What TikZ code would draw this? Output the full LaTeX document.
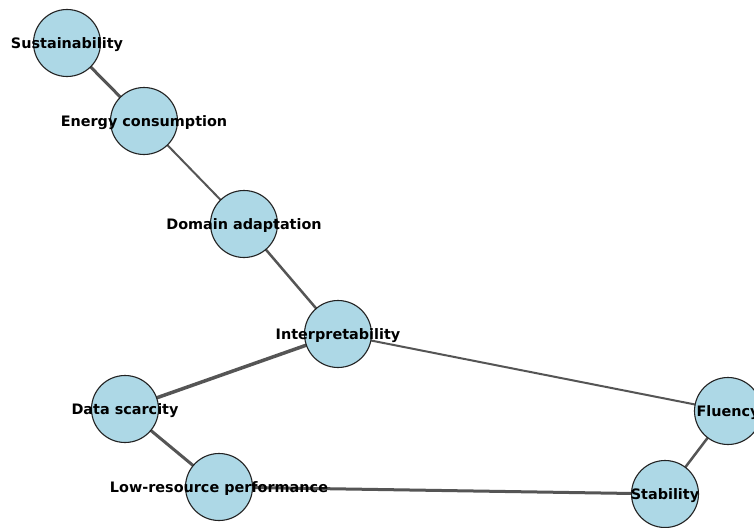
\documentclass[tikz,border=0pt]{standalone}
\usepackage{fontspec}
\setmainfont{DejaVu Sans}
\definecolor{nodefill}{HTML}{ADD8E6}
\definecolor{edgecol}{HTML}{555555}
\definecolor{rimcol}{HTML}{222222}
\pgfdeclarelayer{bg}
\pgfsetlayers{bg,main}
\begin{document}
\begin{tikzpicture}[x=1pt,y=-1pt,
  vertex/.style={circle,draw=rimcol,line width=1.1pt,fill=nodefill,minimum size=67pt,inner sep=0pt},
  lbl/.style={font=\fontsize{14.4}{14.4}\selectfont\bfseries,text=black,inner sep=0pt,yshift=-2pt},
  edge/.style={draw=edgecol,line width=2pt},
  thickedge/.style={draw=edgecol,line width=3pt}]
\useasboundingbox (0,0) rectangle (754,527);
\node[vertex] (sus) at (67,43) {};
\node[vertex] (ene) at (144,121) {};
\node[vertex] (dom) at (244,224) {};
\node[vertex] (int) at (338,334) {};
\node[vertex] (dat) at (125,409) {};
\node[vertex] (low) at (219,487) {};
\node[vertex] (sta) at (665,494) {};
\node[vertex] (flu) at (728,411) {};
\begin{pgfonlayer}{bg}
\fill[white] (0,0) rectangle (754,527);
\draw[thickedge] (sus.center) -- (ene.center);
\draw[edge] (ene.center) -- (dom.center);
\draw[edge,line width=2.5pt] (dom.center) -- (int.center);
\draw[thickedge,line width=3.5pt] (int.center) -- (dat.center);
\draw[edge] (int.center) -- (flu.center);
\draw[thickedge] (dat.center) -- (low.center);
\draw[thickedge] (low.center) -- (sta.center);
\draw[edge,line width=2.5pt] (sta.center) -- (flu.center);
\end{pgfonlayer}
\node[lbl] (lsus) at (sus) {Sustainability};
\node[lbl] (lene) at (ene) {Energy consumption};
\node[lbl] (ldom) at (dom) {Domain adaptation};
\node[lbl] (lint) at (int) {Interpretability};
\node[lbl] (ldat) at (dat) {Data scarcity};
\node[lbl] (llow) at (low) {Low-resource performance};
\node[lbl] (lsta) at (sta) {Stability};
\node[lbl] (lflu) at (flu) {Fluency};
\end{tikzpicture}
\end{document}
